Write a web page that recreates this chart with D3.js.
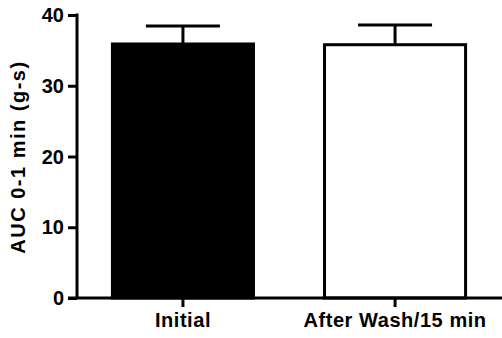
<!DOCTYPE html>
<html>
<head>
<meta charset="utf-8">
<script src="https://cdn.jsdelivr.net/npm/d3@7"></script>
<style>
  body { margin: 0; background: #fff; }
  text { font-family: "Liberation Sans", Arial, sans-serif; font-weight: bold; fill: #000; }
</style>
</head>
<body>
<svg id="chart" width="502" height="338"></svg>
<script>
// data
var categories = ["Initial", "After Wash/15 min"];
var means = [35.9, 35.8];
var errors = [2.55, 2.8];
var fills = ["#000", "#fff"];
var yTicks = [0, 10, 20, 30, 40];

var svg = d3.select("#chart");

var x = d3.scaleBand()
    .domain(categories)
    .range([77, 501])
    .paddingInner(0.335)
    .paddingOuter(0.167);

var y = d3.scaleLinear().domain([0, 40]).range([298, 15]);

var data = categories.map(function(c, i) {
  return {cat: c, mean: means[i], err: errors[i], fill: fills[i]};
});

// bars
svg.selectAll(".bar")
    .data(data)
    .enter().append("rect")
    .attr("class", "bar")
    .attr("x", d => x(d.cat))
    .attr("y", d => y(d.mean))
    .attr("width", x.bandwidth())
    .attr("height", d => y(0) - y(d.mean))
    .attr("fill", d => d.fill)
    .attr("stroke", "#000")
    .attr("stroke-width", 3);

// error bars (upper only)
var capW = 74;
svg.selectAll(".err")
    .data(data)
    .enter().append("line")
    .attr("x1", d => x(d.cat) + x.bandwidth() / 2)
    .attr("x2", d => x(d.cat) + x.bandwidth() / 2)
    .attr("y1", d => y(d.mean))
    .attr("y2", d => y(d.mean + d.err))
    .attr("stroke", "#000").attr("stroke-width", 3);
svg.selectAll(".cap")
    .data(data)
    .enter().append("line")
    .attr("x1", d => x(d.cat) + x.bandwidth() / 2 - capW / 2)
    .attr("x2", d => x(d.cat) + x.bandwidth() / 2 + capW / 2)
    .attr("y1", d => y(d.mean + d.err))
    .attr("y2", d => y(d.mean + d.err))
    .attr("stroke", "#000").attr("stroke-width", 3);

// y axis
var yAxis = svg.append("g")
    .attr("transform", "translate(77,0)")
    .call(d3.axisLeft(y).tickValues(yTicks).tickSize(9).tickPadding(4));
yAxis.select(".domain").remove();
yAxis.selectAll(".tick line").attr("stroke", "#000").attr("stroke-width", 3);
yAxis.selectAll(".tick text")
    .attr("font-size", 20)
    .attr("dy", "0.33em")
    .attr("fill", "#000")
    .attr("font-family", null);
svg.append("line")
    .attr("x1", 77).attr("x2", 77)
    .attr("y1", y(40) - 1.5).attr("y2", y(0))
    .attr("stroke", "#000").attr("stroke-width", 3);

// x axis
var xAxis = svg.append("g")
    .attr("transform", "translate(0,298)")
    .call(d3.axisBottom(x).tickSize(9).tickPadding(6));
xAxis.select(".domain").remove();
xAxis.selectAll(".tick line").attr("stroke", "#000").attr("stroke-width", 3);
xAxis.selectAll(".tick text")
    .attr("font-size", 20)
    .attr("font-family", null)
    .attr("fill", "#000")
    .attr("dy", "0.71em")
    .style("letter-spacing", "0.55px");
svg.append("line")
    .attr("x1", 68).attr("x2", 502)
    .attr("y1", 298).attr("y2", 298)
    .attr("stroke", "#000").attr("stroke-width", 3);

// y axis label
svg.append("text")
    .attr("transform", "rotate(-90)")
    .attr("x", -157)
    .attr("y", 24.5)
    .attr("text-anchor", "middle")
    .attr("font-size", 20)
    .style("letter-spacing", "1.5px")
    .text("AUC 0-1 min (g-s)");
</script>
</body>
</html>
